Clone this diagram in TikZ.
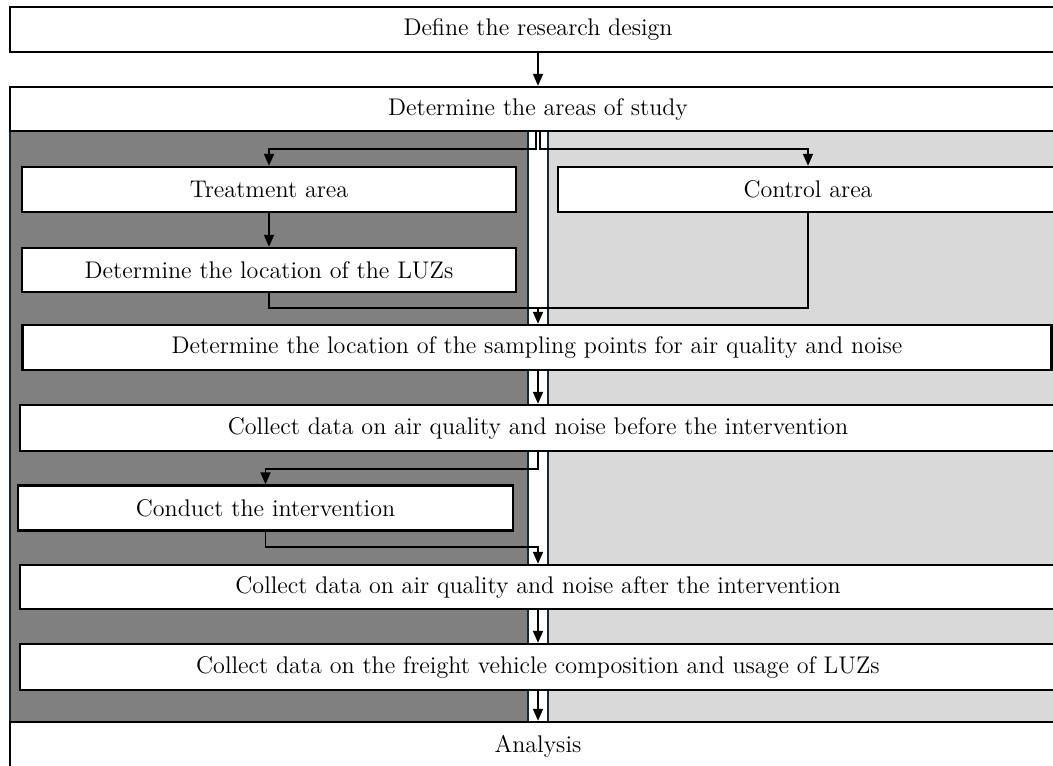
\documentclass[tikz,border=0pt]{standalone}
\usetikzlibrary{arrows.meta}
\definecolor{edgeblue}{RGB}{20,40,55}
\definecolor{darkzone}{RGB}{128,128,128}
\definecolor{lightzone}{RGB}{217,217,217}
\begin{document}
\begin{tikzpicture}[x=0.02cm,y=-0.02cm,
    box/.style={draw,fill=white,line width=1.4pt,minimum height=0.9cm,inner sep=0pt,
      font=\fontsize{13.7}{16}\selectfont},
    link/.style={line width=1pt},
    flow/.style={link,-{Triangle[length=2.4mm,width=2mm]}}]
  \useasboundingbox (0,0) rectangle (1053,765);
  \clip (0,0) rectangle (1053,765);

  % treatment and control zones
  \fill[darkzone] (10,131) rectangle (528,722);
  \fill[lightzone] (548,131) rectangle (1066,722);
  \draw[edgeblue,line width=0.8pt] (10,131) -- (10,722);
  \draw[edgeblue,line width=0.8pt] (528,131) -- (528,722);
  \draw[edgeblue,line width=0.8pt] (548,131) -- (548,722);

  \node[box,minimum width=21.12cm] (design) at (538,29.5) {Define the research design};
  \node[box,minimum width=21.12cm,minimum height=0.88cm] (areas) at (538,109) {Determine the areas of study};

  \node[box,minimum width=9.88cm] (treat) at (269,189.5) {Treatment area};
  \node[box,minimum width=10cm] (ctrl) at (808,189.5) {Control area};
  \node[box,minimum width=9.88cm,minimum height=0.88cm] (luzs) at (269,270) {Determine the location of the LUZs};

  \node[box,minimum width=20.58cm] (sampling) at (537,347.5) {Determine the location of the sampling points for air quality and noise};
  \node[box,minimum width=20.72cm,minimum height=0.92cm] (before) at (538,428) {Collect data on air quality and noise before the intervention};
  \node[box,minimum width=9.9cm] (conduct) at (265.5,508) {Conduct the intervention};
  \node[box,minimum width=20.72cm,minimum height=0.88cm] (after) at (538,587) {Collect data on air quality and noise after the intervention};
  \node[box,minimum width=20.72cm,minimum height=0.92cm] (freight) at (538,667) {Collect data on the freight vehicle composition and usage of LUZs};
  \node[box,minimum width=21.12cm,minimum height=0.96cm] (analysis) at (538,746) {Analysis};

  \coordinate (split) at (538,149);
  \coordinate (merge) at (538,308);
  \coordinate (back) at (538,547);

  \draw[flow] (design) -- (areas);
  \draw[flow] ([xshift=-1.1pt]areas.south) |- ([xshift=-1.1pt]split) -| (treat.north);
  \draw[flow] ([xshift=1.1pt]areas.south) |- ([xshift=1.1pt]split) -| (ctrl.north);
  \draw[flow] (treat) -- (luzs);
  \draw[link] (luzs.south) |- (merge);
  \draw[link] (ctrl.south) |- (merge);
  \draw[flow] (merge) -- (merge |- sampling.north);
  \draw[flow] (sampling.south -| before.north) -- (before.north);
  \draw[flow] (before.south) -- ++(0,17) -| (conduct.north);
  \draw[flow] (conduct.south) |- (back) -- (after.north);
  \draw[flow] (after) -- (freight);
  \draw[flow] (freight) -- (analysis);
\end{tikzpicture}
\end{document}
